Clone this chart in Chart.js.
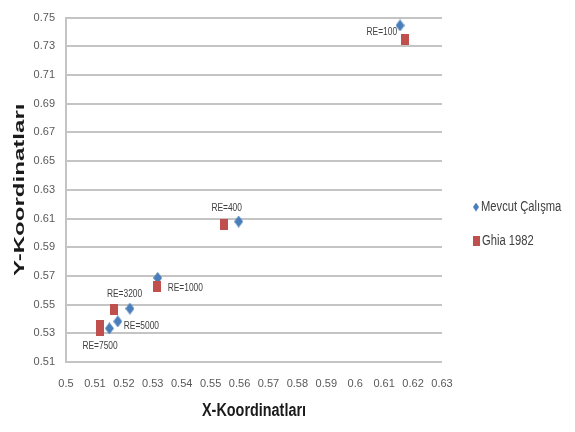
<!DOCTYPE html>
<html>
<head>
<meta charset="utf-8">
<script src="https://cdn.jsdelivr.net/npm/chart.js@4.4.1/dist/chart.umd.min.js"></script>
<style>
  html, body { margin: 0; padding: 0; background: #fff; }
  #wrap { width: 575px; height: 432px; }
</style>
</head>
<body>
<div id="wrap"><canvas id="c" width="575" height="432"></canvas></div>
<script>
// Primary vortex centre positions for each Reynolds number
const reLabels = ['RE=100', 'RE=400', 'RE=1000', 'RE=3200', 'RE=5000', 'RE=7500'];
const mevcutX = [0.6155, 0.5597, 0.5317, 0.5221, 0.5179, 0.5150];
const mevcutY = [0.7445, 0.6079, 0.5686, 0.5472, 0.5383, 0.5334];
const ghiaX = [0.6172, 0.5547, 0.5313, 0.5165, 0.5117, 0.5117];
const ghiaY = [0.7344, 0.6055, 0.5625, 0.5469, 0.5352, 0.5322];

const xTickValues = [0.5, 0.51, 0.52, 0.53, 0.54, 0.55, 0.56, 0.57, 0.58, 0.59, 0.6, 0.61, 0.62, 0.63];
const xTickLabels = ['0.5', '0.51', '0.52', '0.53', '0.54', '0.55', '0.56', '0.57', '0.58', '0.59', '0.6', '0.61', '0.62', '0.63'];
const yTickValues = [0.51, 0.53, 0.55, 0.57, 0.59, 0.61, 0.63, 0.65, 0.67, 0.69, 0.71, 0.73, 0.75];
const yTickLabels = ['0.51', '0.53', '0.55', '0.57', '0.59', '0.61', '0.63', '0.65', '0.67', '0.69', '0.71', '0.73', '0.75'];

const seriesNames = ['Mevcut Çalışma', 'Ghia 1982'];
const xTitle = 'X-Koordinatları';
const yTitle = 'Y-Koordinatları';
const BLUE = '#4a7ebb';
const RED = '#c0504d';
const FONT = "'Liberation Sans', Arial, sans-serif";

// Where each RE caption sits relative to its "Mevcut" point (dx, dy, alignment)
const labelPlacement = [
  { dx: -3, dy: 7, align: 'right' },
  { dx: -12, dy: -13, align: 'center' },
  { dx: 10, dy: 10, align: 'left' },
  { dx: -23, dy: -14, align: 'left' },
  { dx: 6, dy: 5, align: 'left' },
  { dx: -27, dy: 18, align: 'left' }
];

function makeMarker(kind, w, h, color) {
  const cv = document.createElement('canvas');
  cv.width = w; cv.height = h;
  const g = cv.getContext('2d');
  g.fillStyle = color;
  if (kind === 'diamond') {
    g.beginPath();
    g.moveTo(w / 2, 0); g.lineTo(w, h / 2); g.lineTo(w / 2, h); g.lineTo(0, h / 2);
    g.closePath(); g.fill();
  } else {
    g.fillRect(0, 0, w, h);
  }
  return cv;
}
const diamond = makeMarker('diamond', 9, 12, BLUE);
const square = makeMarker('square', 8, 11, RED);

const toPoints = (xs, ys) => xs.map((x, i) => ({ x: x, y: ys[i] }));

// Text squeezed horizontally to get a narrow, tall letterform
function narrowText(ctx, text, x, y, align, sx) {
  ctx.save();
  ctx.translate(x, y);
  ctx.scale(sx, 1);
  ctx.textAlign = align;
  ctx.fillText(text, 0, 0);
  ctx.restore();
}

const overlay = {
  id: 'overlay',
  afterDatasetsDraw(chart) {
    const ctx = chart.ctx;
    const meta = chart.getDatasetMeta(0);
    ctx.save();
    ctx.font = '10px ' + FONT;
    ctx.fillStyle = '#404040';
    ctx.textBaseline = 'middle';
    meta.data.forEach((pt, i) => {
      const p = labelPlacement[i];
      narrowText(ctx, reLabels[i], pt.x + p.dx, pt.y + p.dy, p.align, 0.84);
    });
    ctx.restore();
  },
  afterDraw(chart) {
    const ctx = chart.ctx;
    const area = chart.chartArea;
    ctx.save();
    // Legend
    const markers = [diamond, square];
    ctx.font = '14px ' + FONT;
    ctx.fillStyle = '#404040';
    ctx.textBaseline = 'middle';
    const lx = area.right + 31;
    const ly = [207, 241];
    seriesNames.forEach((name, i) => {
      const mw = i === 0 ? 6 : 7, mh = i === 0 ? 9 : 10;
      ctx.drawImage(markers[i], lx, ly[i] - mh / 2, mw, mh);
      narrowText(ctx, name, lx + mw + 2, ly[i], 'left', 0.8);
    });
    // Axis titles
    ctx.fillStyle = '#1a1a1a';
    ctx.font = 'bold 18px ' + FONT;
    narrowText(ctx, xTitle, (area.left + area.right) / 2, 411, 'center', 0.8);
    ctx.font = 'bold 14px ' + FONT;
    ctx.translate(20, (area.top + area.bottom) / 2);
    ctx.rotate(-Math.PI / 2);
    ctx.scale(1.72, 1);
    ctx.textAlign = 'center';
    ctx.fillText(yTitle, 0, 0);
    ctx.restore();
  }
};

new Chart(document.getElementById('c'), {
  type: 'scatter',
  data: {
    datasets: [
      { label: seriesNames[0], data: toPoints(mevcutX, mevcutY), pointStyle: diamond, backgroundColor: BLUE, borderColor: BLUE, order: 2 },
      { label: seriesNames[1], data: toPoints(ghiaX, ghiaY), pointStyle: square, backgroundColor: RED, borderColor: RED, order: 1 }
    ]
  },
  options: {
    responsive: false,
    animation: false,
    devicePixelRatio: 1,
    layout: { padding: { top: 14, right: 133, bottom: 0, left: 0 } },
    plugins: { legend: { display: false }, tooltip: { enabled: false } },
    scales: {
      x: {
        type: 'linear',
        min: 0.5, max: 0.63,
        afterBuildTicks: s => { s.ticks = xTickValues.map(v => ({ value: v })); },
        afterFit: s => { s.height = 70; },
        grid: { display: false, drawTicks: false },
        border: { display: false },
        ticks: {
          padding: 15,
          color: '#595959',
          font: { family: FONT, size: 11 },
          maxRotation: 0,
          autoSkip: false,
          callback: (v, i) => xTickLabels[i]
        }
      },
      y: {
        type: 'linear',
        min: 0.51, max: 0.75,
        afterBuildTicks: s => { s.ticks = yTickValues.map(v => ({ value: v })); },
        afterFit: s => { s.width = 66; },
        grid: { color: '#c4c4c4', lineWidth: 2, drawTicks: false },
        border: { display: true, color: '#c4c4c4', width: 2 },
        ticks: {
          padding: 11,
          color: '#595959',
          font: { family: FONT, size: 11 },
          autoSkip: false,
          callback: (v, i) => yTickLabels[i]
        }
      }
    }
  },
  plugins: [overlay]
});
</script>
</body>
</html>
